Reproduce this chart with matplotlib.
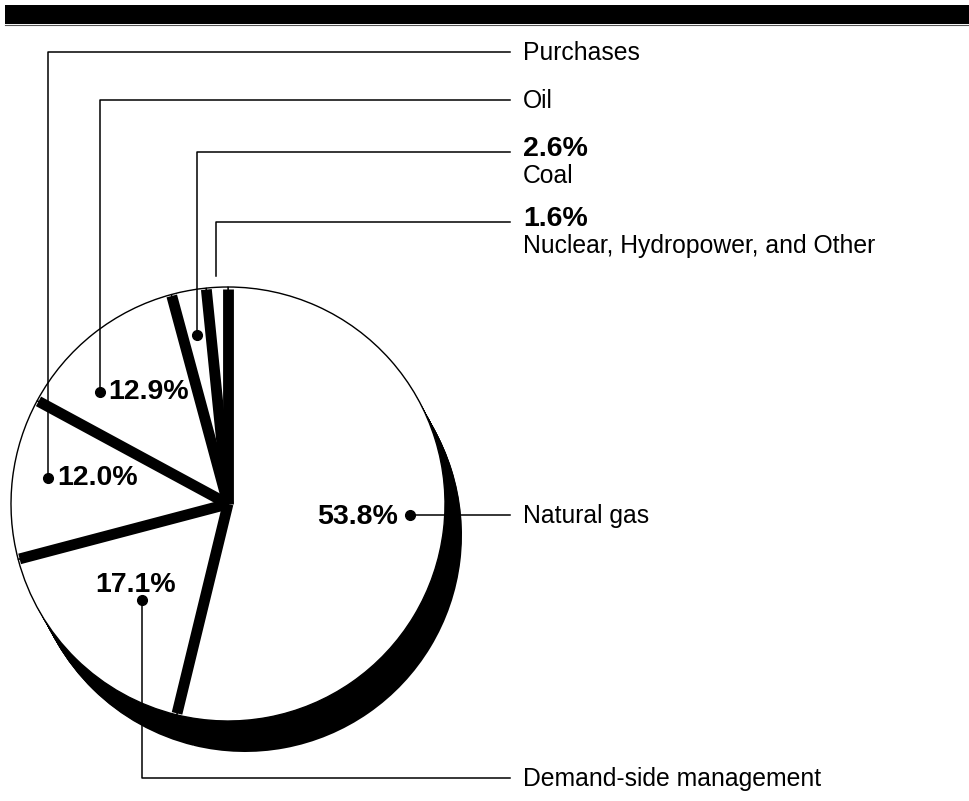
import numpy as np
import matplotlib
matplotlib.use("Agg")
import matplotlib.pyplot as plt
from matplotlib.patches import Rectangle

plt.rcParams['font.family'] = ['Liberation Sans', 'DejaVu Sans']

# ---- data ----
categories = ["Natural gas", "Demand-side management", "Purchases", "Oil", "Coal",
              "Nuclear, Hydropower, and Other"]
values = [53.8, 17.1, 12.0, 12.9, 2.6, 1.6]
pct_labels = ["53.8%", "17.1%", "12.0%", "12.9%", "2.6%", "1.6%"]

W, H = 969, 801
fig = plt.figure(figsize=(W / 100, H / 100), dpi=100)
ax = fig.add_axes([0, 0, 1, 1])

def Y(y):
    return H - y

cx, cy, R = 228, Y(504), 217
sdx, sdy = 17, 31

# shadow / extrusion
for t in np.linspace(0, 1, 32):
    ax.pie(values, center=(cx + t * sdx, cy - t * sdy), radius=R, startangle=90,
           counterclock=False, colors=['black'] * len(values),
           wedgeprops=dict(linewidth=0))

# white wedges
ax.pie(values, center=(cx, cy), radius=R, startangle=90, counterclock=False,
       colors=['white'] * len(values),
       wedgeprops=dict(edgecolor='black', linewidth=1.0))

# black separating bands along boundaries
vals = np.array(values)
bounds = 90 - 360 * np.cumsum(vals) / vals.sum()
for b in bounds:
    th = np.deg2rad(b)
    ax.plot([cx, cx + (R - 1.5) * np.cos(th)], [cy, cy + (R - 1.5) * np.sin(th)],
            color='black', lw=7.8, solid_capstyle='butt', zorder=3)

ax.set_xlim(0, W)
ax.set_ylim(0, H)
ax.set_aspect('equal')
ax.axis('off')

# top bar
ax.add_patch(Rectangle((5, Y(24)), W - 5, 19, facecolor='black', edgecolor='none',
                       zorder=5))
ax.plot([5, W], [Y(24.5), Y(24.5)], color='#555555', lw=0.8, zorder=5)

lw = 1.1
ms = 7
fs_reg = 17.8
fs_bold = 20.5
tx = 523

def dot(x, y):
    ax.plot([x], [Y(y)], 'o', color='black', ms=ms, zorder=6)

# Purchases
ax.plot([48, 48, 510], [Y(478), Y(52), Y(52)], color='black', lw=lw, zorder=6)
dot(48, 478)
ax.text(tx, Y(53), categories[2], fontsize=fs_reg, va='center', ha='left')
ax.text(57, Y(478), pct_labels[2], fontsize=fs_bold, fontweight='bold', va='center',
        ha='left', zorder=7)

# Oil
ax.plot([100, 100, 510], [Y(392), Y(100), Y(100)], color='black', lw=lw, zorder=6)
dot(100, 392)
ax.text(tx, Y(101), categories[3], fontsize=fs_reg, va='center', ha='left')
ax.text(108, Y(392), pct_labels[3], fontsize=fs_bold, fontweight='bold', va='center',
        ha='left', zorder=7)

# Coal
ax.plot([197, 197, 510], [Y(335), Y(152), Y(152)], color='black', lw=lw, zorder=6)
dot(197, 335)
ax.text(tx, Y(156), pct_labels[4], fontsize=fs_bold, fontweight='bold', va='baseline',
        ha='left')
ax.text(tx, Y(183), categories[4], fontsize=fs_reg, va='baseline', ha='left')

# Nuclear
ax.plot([216, 216, 510], [Y(276), Y(222), Y(222)], color='black', lw=lw, zorder=6)
ax.text(tx, Y(226), pct_labels[5], fontsize=fs_bold, fontweight='bold', va='baseline',
        ha='left')
ax.text(tx, Y(253), categories[5], fontsize=fs_reg, va='baseline', ha='left')

# Natural gas
ax.plot([410, 510], [Y(515), Y(515)], color='black', lw=lw, zorder=6)
dot(410, 515)
ax.text(tx, Y(516), categories[0], fontsize=fs_reg, va='center', ha='left')
ax.text(398, Y(517), pct_labels[0], fontsize=fs_bold, fontweight='bold', va='center',
        ha='right', zorder=7)

# Demand-side management
ax.plot([142, 142, 510], [Y(600), Y(778), Y(778)], color='black', lw=lw, zorder=6)
dot(142, 600)
ax.text(tx, Y(779), categories[1], fontsize=fs_reg, va='center', ha='left')
ax.text(95, Y(585), pct_labels[1], fontsize=fs_bold, fontweight='bold', va='center',
        ha='left', zorder=7)

fig.savefig("out.png", dpi=100)
